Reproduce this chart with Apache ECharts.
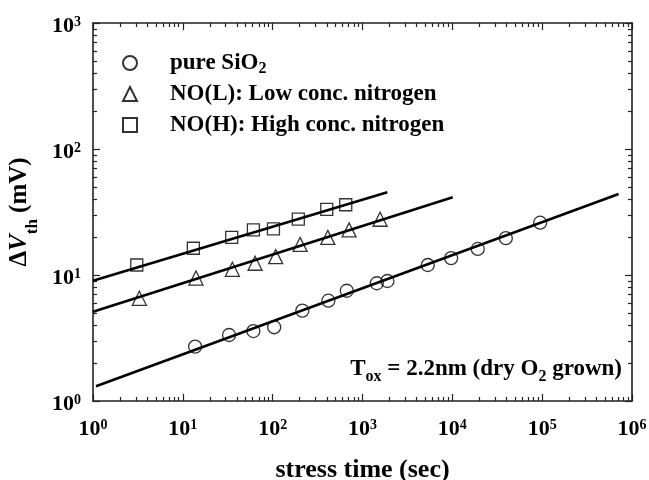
<!DOCTYPE html>
<html>
<head>
<meta charset="utf-8">
<script src="https://cdn.jsdelivr.net/npm/echarts@6/dist/echarts.min.js"></script>
<style>
  html, body { margin: 0; padding: 0; background: #fff; }
  #chart { width: 649px; height: 480px; }
</style>
</head>
<body>
<div id="chart"></div>
<script>
// Threshold-voltage shift vs. stress time, three gate-oxide types (log-log)
const seriesNames = ['pure SiO2', 'NO(L): Low conc. nitrogen', 'NO(H): High conc. nitrogen'];
const legendLabels = ['pure SiO{sub|2}', 'NO(L): Low conc. nitrogen', 'NO(H): High conc. nitrogen'];

// stress time (s) and measured shift (mV)
const pureTime  = [13.7, 32.7, 61, 104, 214, 417, 668, 1443, 1893, 5330, 9700, 19200, 39400, 95000];
const pureShift = [2.70, 3.34, 3.59, 3.85, 5.21, 6.25, 7.5, 8.6, 8.96, 12.0, 13.6, 16.1, 19.6, 26.0];

const noLowTime  = [3.28, 14.0, 35.6, 63.7, 108, 202, 411, 709, 1570];
const noLowShift = [6.53, 9.46, 11.1, 12.4, 14.0, 17.5, 19.9, 22.8, 27.7];

const noHighTime  = [3.07, 13.1, 35.0, 61, 102, 193, 400, 651];
const noHighShift = [12.0, 16.3, 19.9, 22.8, 23.2, 27.8, 33.2, 36.1];

// power-law fit lines, given by their end points [time, shift]
const pureFit   = [[1.08, 1.31], [710000, 44]];
const noLowFit  = [[1, 5.11], [10100, 41.4]];
const noHighFit = [[1, 9.0], [1890, 45.3]];

// axis ticks
const xMajorTicks = [1, 10, 100, 1000, 10000, 100000, 1000000];
const yMajorTicks = [1, 10, 100, 1000];
function minorTicks(majors) {
  const out = [];
  for (let i = 0; i < majors.length - 1; i++) {
    for (let k = 2; k <= 9; k++) out.push(majors[i] * k);
  }
  return out;
}
const xMinorTicks = minorTicks(xMajorTicks);
const yMinorTicks = minorTicks(yMajorTicks);

const FONT = '"Liberation Serif", "Times New Roman", serif';
const INK = '#000';
const FRAME = '#222';

function pairs(xs, ys) { return xs.map((x, i) => [x, ys[i]]); }
function powLabel(v) {
  const e = Math.round(Math.log10(v));
  return '{b|10}{sup|' + e + '}';
}
function tickRich(padTop) {
  return {
    b:   { fontFamily: FONT, fontWeight: 'bold', fontSize: 22, color: INK, lineHeight: 22, padding: [padTop, 0, 0, 0], verticalAlign: 'top' },
    sup: { fontFamily: FONT, fontWeight: 'bold', fontSize: 14, color: INK, lineHeight: 14, padding: [padTop, 0, 0, 0], verticalAlign: 'top' }
  };
}

function logAxis(position, majors, ticks, kind) {
  return {
    type: 'log',
    logBase: 10,
    min: majors[0],
    max: majors[majors.length - 1],
    position: position,
    gridIndex: 0,
    splitLine: { show: false },
    axisLine: { show: kind === 'major', lineStyle: { color: FRAME, width: 1.6 } },
    axisTick: {
      show: true,
      inside: true,
      length: kind === 'major' ? 7 : 4,
      customValues: ticks,
      lineStyle: { color: FRAME, width: 1.2 }
    },
    axisLabel: { show: false },
    silent: true
  };
}

const xAxes = [
  logAxis('bottom', xMajorTicks, xMajorTicks, 'major'),
  logAxis('bottom', xMajorTicks, xMinorTicks, 'minor'),
  logAxis('top', xMajorTicks, xMajorTicks, 'major'),
  logAxis('top', xMajorTicks, xMinorTicks, 'minor')
];
const yAxes = [
  logAxis('left', yMajorTicks, yMajorTicks, 'major'),
  logAxis('left', yMajorTicks, yMinorTicks, 'minor'),
  logAxis('right', yMajorTicks, yMajorTicks, 'major'),
  logAxis('right', yMajorTicks, yMinorTicks, 'minor')
];

// labelled bottom axis
Object.assign(xAxes[0], {
  axisLabel: {
    show: true, margin: 9, customValues: xMajorTicks,
    formatter: powLabel, rich: tickRich(8)
  },
  name: 'stress time (sec)',
  nameLocation: 'middle',
  nameGap: 56,
  nameTextStyle: { fontFamily: FONT, fontWeight: 'bold', fontSize: 26, color: INK }
});
// labelled left axis
Object.assign(yAxes[0], {
  axisLabel: {
    show: true, margin: 12, customValues: yMajorTicks,
    formatter: powLabel, rich: tickRich(3)
  },
  name: '{d|\u0394}{v|V}{s|th}{d| (mV)}',
  nameLocation: 'middle',
  nameRotate: 90,
  nameGap: 47,
  nameTextStyle: {
    rich: {
      d: { fontFamily: FONT, fontWeight: 'bold', fontSize: 25, color: INK, lineHeight: 44 },
      v: { fontFamily: FONT, fontWeight: 'bold', fontStyle: 'italic', fontSize: 25, color: INK, lineHeight: 44 },
      s: { fontFamily: FONT, fontWeight: 'bold', fontSize: 17, color: INK, lineHeight: 16, verticalAlign: 'bottom' }
    }
  }
});

const markerStyle = { color: 'rgba(0,0,0,0)', borderColor: INK, borderWidth: 1.3 };
const fitStyle = { color: INK, width: 2.6 };

function fitSeries(data) {
  return {
    type: 'line', data: data, xAxisIndex: 0, yAxisIndex: 0,
    symbol: 'none', lineStyle: fitStyle, silent: true, z: 1
  };
}
function pointSeries(name, symbol, size, data) {
  return {
    name: name, type: 'scatter', data: data, xAxisIndex: 0, yAxisIndex: 0,
    symbol: symbol, symbolSize: size, itemStyle: markerStyle, z: 3
  };
}

const option = {
  backgroundColor: '#fff',
  animation: false,
  grid: { left: 93, right: 17, top: 23, bottom: 79, containLabel: false, outerBoundsMode: 'none' },
  xAxis: xAxes,
  yAxis: yAxes,
  legend: {
    data: seriesNames,
    orient: 'vertical',
    left: 117,
    top: 44,
    itemWidth: 14,
    itemHeight: 14,
    itemGap: 3,
    selectedMode: false,
    formatter: function (name) { return legendLabels[seriesNames.indexOf(name)]; },
    textStyle: {
      fontFamily: FONT, fontWeight: 'bold', fontSize: 23, color: INK,
      lineHeight: 28, padding: [0, 0, 0, 28],
      rich: {
        sub: { fontFamily: FONT, fontWeight: 'bold', fontSize: 16, color: INK, lineHeight: 14, verticalAlign: 'bottom' }
      }
    }
  },
  graphic: [{
    type: 'text',
    right: 649 - 622,
    top: 358,
    style: {
      text: '{b|T}{s|ox}{b| = 2.2nm (dry O}{s|2}{b| grown)}',
      rich: {
        b: { fontFamily: FONT, fontWeight: 'bold', fontSize: 23, fill: INK, lineHeight: 30 },
        s: { fontFamily: FONT, fontWeight: 'bold', fontSize: 16, fill: INK, lineHeight: 15, verticalAlign: 'bottom' }
      }
    }
  }],
  series: [
    fitSeries(pureFit),
    fitSeries(noLowFit),
    fitSeries(noHighFit),
    pointSeries(seriesNames[0], 'circle', 13, pairs(pureTime, pureShift)),
    pointSeries(seriesNames[1], 'triangle', 14, pairs(noLowTime, noLowShift)),
    pointSeries(seriesNames[2], 'rect', 12, pairs(noHighTime, noHighShift))
  ]
};

const chart = echarts.init(document.getElementById('chart'), null, { renderer: 'canvas' });
chart.setOption(option);
</script>
</body>
</html>
